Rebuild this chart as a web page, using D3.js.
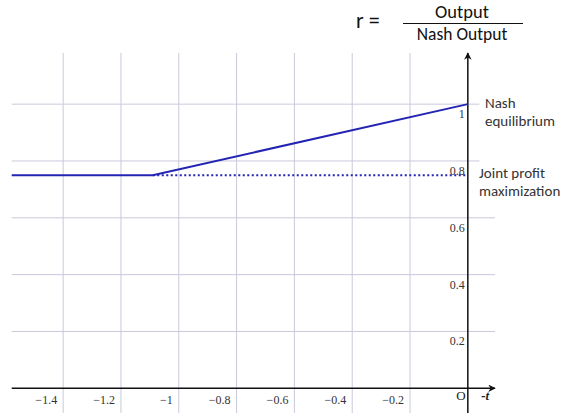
<!DOCTYPE html>
<html>
<head>
<meta charset="utf-8">
<script src="https://cdn.jsdelivr.net/npm/d3@7"></script>
<style>
  body { margin: 0; background: #fff; }
  svg { display: block; }
</style>
</head>
<body>
<svg id="chart" width="563" height="416"></svg>
<script>
// data
var xTicks = [-1.4, -1.2, -1, -0.8, -0.6, -0.4, -0.2];
var xTickLabels = ["\u22121.4", "\u22121.2", "\u22121", "\u22120.8", "\u22120.6", "\u22120.4", "\u22120.2"];
var yTicks = [0.2, 0.4, 0.6, 0.8, 1];
var yTickLabels = ["0.2", "0.4", "0.6", "0.8", "1"];
var kinkT = -1.09;
var ratioLine = [[-1.578, 0.75], [kinkT, 0.75], [0, 1]];
var jointProfitLine = [[kinkT, 0.75], [0, 0.75]];

var width = 563, height = 416;
var svg = d3.select("#chart");

var x = d3.scaleLinear().domain([-1.578, 0.094]).range([11.7, 495]);
var y = d3.scaleLinear().domain([-0.087, 1.18]).range([413, 53]);

var gridColor = "#c9c9dc";

// vertical gridlines
svg.append("g")
  .selectAll("line")
  .data(xTicks)
  .enter()
  .append("line")
    .attr("x1", function(d) { return x(d); })
    .attr("x2", function(d) { return x(d); })
    .attr("y1", y(1.18))
    .attr("y2", y(-0.087))
    .attr("stroke", gridColor)
    .attr("stroke-width", 1);

// horizontal gridlines (top two stop short of the labels)
svg.append("g")
  .selectAll("line")
  .data(yTicks)
  .enter()
  .append("line")
    .attr("x1", x(-1.578))
    .attr("x2", function(d) { return d >= 0.8 ? x(0.04) : x(0.094); })
    .attr("y1", function(d) { return y(d); })
    .attr("y2", function(d) { return y(d); })
    .attr("stroke", gridColor)
    .attr("stroke-width", 1);

// axes with arrows
svg.append("defs").append("marker")
    .attr("id", "arrow")
    .attr("viewBox", "0 0 10 10")
    .attr("refX", 9)
    .attr("refY", 5)
    .attr("markerWidth", 5)
    .attr("markerHeight", 5)
    .attr("markerUnits", "strokeWidth")
    .attr("orient", "auto")
  .append("path")
    .attr("d", "M0,0 L10,5 L0,10 L3,5 Z")
    .attr("fill", "#111");

svg.append("line")
    .attr("x1", x(-1.578)).attr("x2", x(0.094))
    .attr("y1", y(0)).attr("y2", y(0))
    .attr("stroke", "#111").attr("stroke-width", 1.5)
    .attr("marker-end", "url(#arrow)");

svg.append("line")
    .attr("x1", x(0)).attr("x2", x(0))
    .attr("y1", y(-0.087)).attr("y2", y(1.18))
    .attr("stroke", "#111").attr("stroke-width", 1.5)
    .attr("marker-end", "url(#arrow)");

// tick labels
var tickFont = "'Liberation Serif', 'DejaVu Serif', serif";

svg.append("g")
  .selectAll("text")
  .data(xTicks)
  .enter()
  .append("text")
    .attr("x", function(d) { return x(d) - 6; })
    .attr("y", y(0) + 16)
    .attr("text-anchor", "end")
    .attr("font-family", tickFont)
    .attr("font-size", 12)
    .attr("fill", "#333")
    .text(function(d, i) { return xTickLabels[i]; });

svg.append("g")
  .selectAll("text")
  .data(yTicks)
  .enter()
  .append("text")
    .attr("x", x(0) - 3)
    .attr("y", function(d) { return y(d) + 14; })
    .attr("text-anchor", "end")
    .attr("font-family", tickFont)
    .attr("font-size", 12)
    .attr("fill", "#333")
    .text(function(d, i) { return yTickLabels[i]; });

svg.append("text")
    .attr("x", x(0) - 7)
    .attr("y", y(0) + 12)
    .attr("text-anchor", "middle")
    .attr("font-family", tickFont)
    .attr("font-size", 13)
    .attr("fill", "#222")
    .text("O");

svg.append("text")
    .attr("x", x(0.06))
    .attr("y", y(0) + 12)
    .attr("text-anchor", "middle")
    .attr("font-family", tickFont)
    .attr("font-size", 13)
    .attr("font-style", "italic")
    .attr("font-weight", "bold")
    .attr("fill", "#222")
    .text("-t");

// the curves
var line = d3.line()
  .x(function(d) { return x(d[0]); })
  .y(function(d) { return y(d[1]); });

svg.append("path")
    .datum(jointProfitLine)
    .attr("d", line)
    .attr("fill", "none")
    .attr("stroke", "#2424b4")
    .attr("stroke-width", 2)
    .attr("stroke-dasharray", "2,2.5");

svg.append("path")
    .datum(ratioLine)
    .attr("d", line)
    .attr("fill", "none")
    .attr("stroke", "#2424b4")
    .attr("stroke-width", 2);

// right side labels
var labelFont = "Carlito, 'Open Sans', 'Noto Sans', sans-serif";

function twoLines(x0, y0, a, b) {
  var t = svg.append("text")
      .attr("font-family", labelFont)
      .attr("font-size", 15)
      .attr("fill", "#333");
  t.append("tspan").attr("x", x0).attr("y", y0).text(a);
  t.append("tspan").attr("x", x0).attr("y", y0 + 18).text(b);
}
twoLines(485, 108, "Nash", "equilibrium");
twoLines(479, 178, "Joint profit", "maximization");

// formula r = Output / Nash Output
svg.append("text")
    .attr("x", 356)
    .attr("y", 28)
    .attr("font-family", labelFont)
    .attr("font-size", 22)
    .attr("fill", "#111")
    .text("r =");

svg.append("text")
    .attr("x", 462)
    .attr("y", 18)
    .attr("text-anchor", "middle")
    .attr("font-family", labelFont)
    .attr("font-size", 18.5)
    .attr("fill", "#111")
    .text("Output");

svg.append("line")
    .attr("x1", 403).attr("x2", 523)
    .attr("y1", 23.5).attr("y2", 23.5)
    .attr("stroke", "#111").attr("stroke-width", 1);

svg.append("text")
    .attr("x", 462)
    .attr("y", 40)
    .attr("text-anchor", "middle")
    .attr("font-family", labelFont)
    .attr("font-size", 17.5)
    .attr("fill", "#111")
    .text("Nash Output");
</script>
</body>
</html>
